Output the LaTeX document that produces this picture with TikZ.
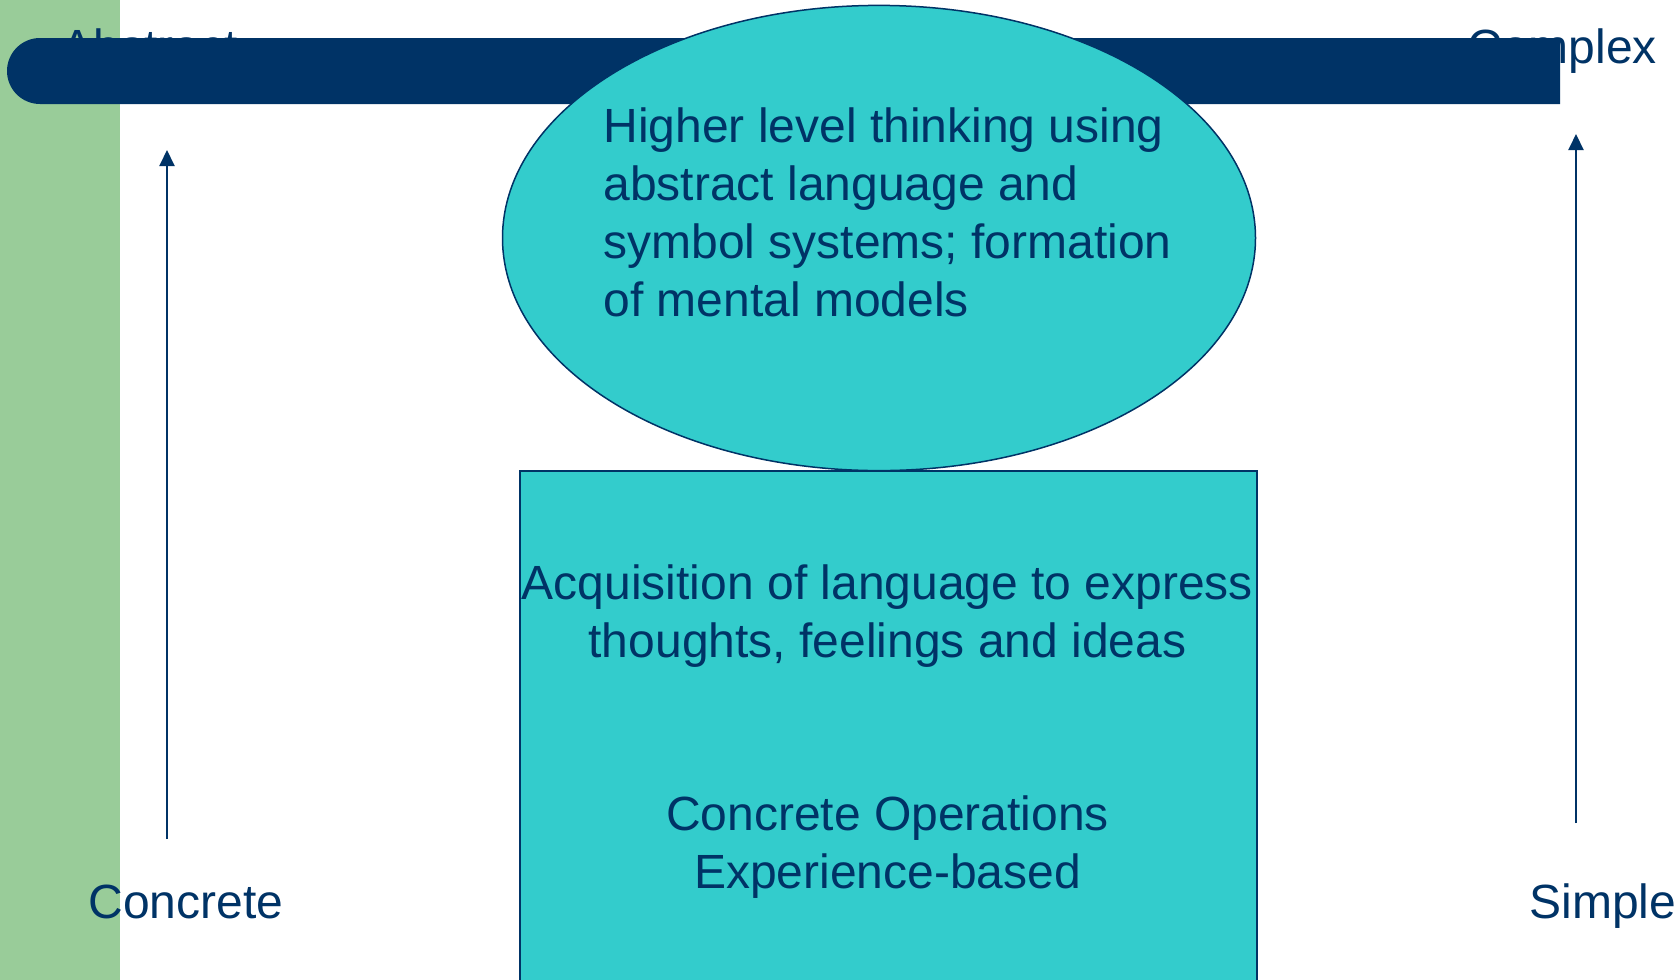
\documentclass[tikz,border=0pt]{standalone}
\usepackage{fontspec}
\setmainfont{Liberation Sans}
\usetikzlibrary{shapes.geometric,arrows.meta}
\definecolor{navy}{RGB}{0,51,102}
\definecolor{teal2}{RGB}{51,204,204}
\definecolor{green2}{RGB}{153,204,153}
\tikzset{
  lbl/.style={inner sep=0pt, text=navy, font=\fontsize{24}{29}\selectfont},
  uparrow/.style={draw=navy, line width=1pt, -{Triangle[length=8pt,width=7.5pt]}},
}
\begin{document}
\begin{tikzpicture}[x=0.5pt,y=-0.5pt]
\useasboundingbox (0,0) rectangle (1677,980);
\clip (0,0) rectangle (1677,980);
\fill[white] (0,0) rectangle (1677,980);
% green strip
\fill[green2] (0,0) rectangle (120,980);
% labels behind bar
\node[lbl, anchor=base west] (abstract) at (61,63) {Abstract};
\node[lbl, anchor=base west] (complex) at (1467,63) {Complex};
% bar
\fill[navy] (1560,38) -- (40,38) arc[start angle=270, end angle=90, radius=33] -- (1560,104) -- cycle;
% box
\node[draw=navy, line width=1pt, fill=teal2, rectangle, anchor=north west, inner sep=0pt,
      minimum width=368.5pt, minimum height=270pt] (box) at (519,470) {};
% ellipse
\node[draw=navy, line width=0.75pt, fill=teal2, ellipse, inner sep=0pt,
      minimum width=376.5pt, minimum height=232.6pt] (oval) at (879,238) {};
\node[lbl, anchor=base west, align=left] (ovaltext) at (603,316)
  {Higher level thinking using\\abstract language and\\symbol systems; formation\\of mental models};
\node[lbl, anchor=base, align=center] (acq) at (887.5,657)
  {Acquisition of language to express\\thoughts, feelings and ideas};
\node[lbl, anchor=base, align=center] (conc) at (887.5,888)
  {Concrete Operations\\Experience-based};
% bottom labels
\node[lbl, anchor=base west] (concrete) at (88,918) {Concrete};
\node[lbl, anchor=base west] (simple) at (1529,918) {Simple};
% arrows
\coordinate (lb) at (167,839);
\coordinate (lt) at (167,150);
\coordinate (rb) at (1576,823);
\coordinate (rt) at (1576,134);
\draw[uparrow] (lb) -- (lt);
\draw[uparrow] (rb) -- (rt);
\end{tikzpicture}
\end{document}
